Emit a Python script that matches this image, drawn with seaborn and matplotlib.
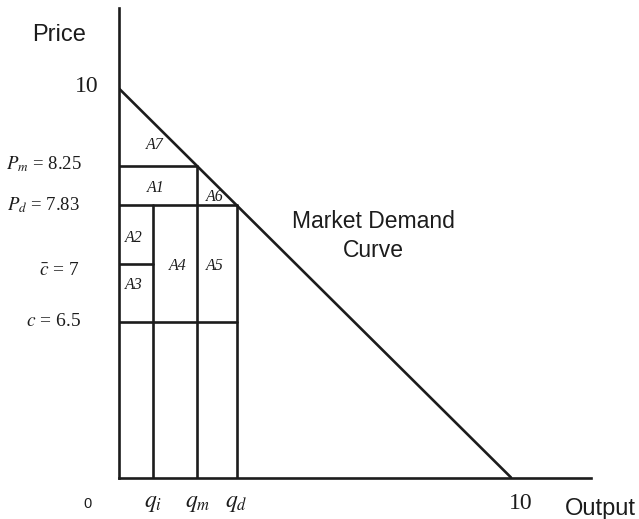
import matplotlib
matplotlib.use("Agg")
import matplotlib.pyplot as plt
import seaborn as sns
import pandas as pd

# ---- data (schematic diagram values) ----
demand_intercept = 10.0   # price intercept / output intercept
q_i = 0.88
q_m = 2.0
q_d = 3.0
p_m = 8.0
p_d = 7.0
c_bar = 5.5
c_low = 4.0

y_labels = ["10", r"$P_m$ = 8.25", r"$P_d$ = 7.83", r"$\bar{c}$ = 7", r"$c$ = 6.5"]
y_label_vals = [demand_intercept, p_m, p_d, c_bar, c_low]
x_labels = [r"$q_i$", r"$q_m$", r"$q_d$", "10"]
x_label_vals = [q_i, q_m, q_d, demand_intercept]
area_names = ["A7", "A1", "A6", "A2", "A3", "A4", "A5"]

# segments built from the values above
segments = {
    "demand": ([0, demand_intercept], [demand_intercept, 0]),
    "pm": ([0, q_m], [p_m, p_m]),
    "pd": ([0, q_d], [p_d, p_d]),
    "cbar": ([0, q_i], [c_bar, c_bar]),
    "c": ([0, q_d], [c_low, c_low]),
    "vqi": ([q_i, q_i], [0, p_d]),
    "vqm": ([q_m, q_m], [0, p_m]),
    "vqd": ([q_d, q_d], [0, p_d]),
}
rows = []
for name, (xs, ys) in segments.items():
    for x, y in zip(xs, ys):
        rows.append({"seg": name, "x": x, "y": y})
df = pd.DataFrame(rows)

sns.set_style("white")
plt.rcParams["mathtext.fontset"] = "stix"
plt.rcParams["font.family"] = ["Liberation Sans", "DejaVu Sans"]

ink = "#1c1c1c"
lw = 1.9

fig = plt.figure(figsize=(6.39, 5.19), dpi=100)
ax = fig.add_axes([119 / 639, (519 - 477.5) / 519, (591 - 119) / 639, (477.5 - 8) / 519])

sns.lineplot(data=df, x="x", y="y", units="seg", estimator=None, sort=False,
             color=ink, linewidth=lw, ax=ax, legend=False)

ax.set_xlim(0, 12.04)
ax.set_ylim(0, 12.07)
ax.set_xticks([])
ax.set_yticks([])
ax.set_xlabel("")
ax.set_ylabel("")
for s in ["top", "right"]:
    ax.spines[s].set_visible(False)
for s in ["left", "bottom"]:
    ax.spines[s].set_color(ink)
    ax.spines[s].set_linewidth(lw)

serif = ["Liberation Serif", "DejaVu Serif"]

# y-axis labels
y_offsets = [(-20, 2), (-37, 2), (-39, 0), (-39, -7), (-38, 0)]
y_sizes = [17, 13.5, 13.5, 14, 14]
for lab, val, off, fs in zip(y_labels, y_label_vals, y_offsets, y_sizes):
    ax.annotate(lab, xy=(0, val), xytext=off, textcoords="offset pixels",
                ha="right", va="center", fontsize=fs, family=serif, color=ink,
                annotation_clip=False)

# x-axis labels
for lab, val in zip(x_labels, x_label_vals):
    fs = 17
    ax.annotate(lab, xy=(val, 0), xytext=(0 if lab != "10" else 10, -26),
                textcoords="offset pixels",
                ha="center", va="center", fontsize=fs, family=serif, color=ink,
                annotation_clip=False)

ax.annotate("0", xy=(0, 0), xytext=(-31, -26), textcoords="offset pixels",
            ha="center", va="center", fontsize=10.5, color=ink, annotation_clip=False)
ax.annotate("Price", xy=(0, 1), xycoords="axes fraction", xytext=(-60, -27),
            textcoords="offset pixels", ha="center", va="center", fontsize=17,
            color=ink, annotation_clip=False)
ax.annotate("Output", xy=(1, 0), xycoords="axes fraction", xytext=(9, -31),
            textcoords="offset pixels", ha="center", va="center", fontsize=17,
            color=ink, annotation_clip=False)

ax.text(6.48, 6.2, "Market Demand\nCurve", ha="center", va="center", fontsize=16.5,
        color=ink, linespacing=1.35)

# area labels
area_pos = [(0.9, 8.56), (0.93, 7.45), (2.45, 7.2), (0.38, 6.15), (0.38, 4.94),
            (1.5, 5.45), (2.45, 5.45)]
for name, (x, y) in zip(area_names, area_pos):
    ax.text(x, y, name, ha="center", va="center", fontsize=11.5, family=serif,
            style="italic", color=ink)

fig.savefig("out.png", dpi=100)
